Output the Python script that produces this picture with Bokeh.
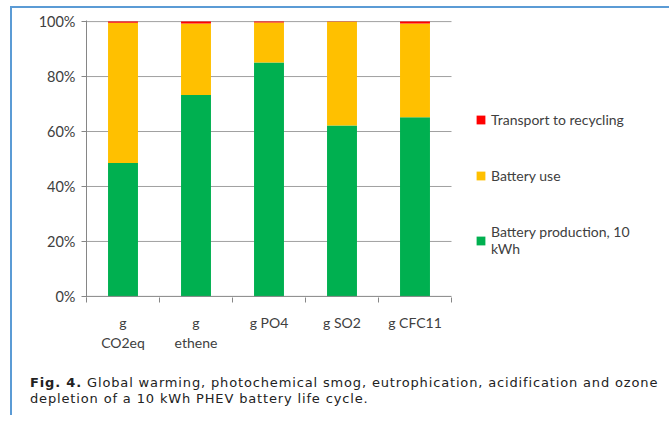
from bokeh.plotting import figure
from bokeh.models import (FixedTicker, NumeralTickFormatter, Legend, LegendItem,
                          ColumnDataSource, Div)
from bokeh.layouts import column
from bokeh.embed import file_html
from bokeh.resources import INLINE

categories = ["g\nCO2eq", "g\nethene", "g PO4", "g SO2", "g CFC11"]
production = [48.5, 73.3, 85.1, 62.2, 65.2]
use = [51.1, 26.0, 14.6, 37.7, 34.1]
transport = [0.4, 0.7, 0.3, 0.1, 0.7]
series_names = ["Battery production, 10\nkWh", "Battery use", "Transport to recycling"]
series_colors = ["#00b050", "#ffc000", "#ff0000"]
y_ticks = [0, 20, 40, 60, 80, 100]
caption_bold = "Fig. 4."
caption_line1 = "Global warming, photochemical smog, eutrophication, acidification and ozone"
caption_line2 = "depletion of a 10 kWh PHEV battery life cycle."

n = len(categories)
xs = [i + 0.5 for i in range(n)]
src = ColumnDataSource(dict(x=xs, prod=[v / 100 for v in production],
                            use=[v / 100 for v in use],
                            trans=[v / 100 for v in transport]))

FONT = "Lato"
TXT = "#404040"
BLUE = "#5b9bd5"

W, H = 661, 375
LEFT, TOP, FRAME_H = 86, 20, 277
AXIS_W = 365                      # pixel width of the category axis
FRAME_W = W - LEFT
x_end = n * FRAME_W / AXIS_W     # frame extends right to hold the legend

p = figure(width=W, height=H, output_backend="svg", toolbar_location=None,
           x_range=(0, x_end), y_range=(-0.004, 1.004),
           min_border_left=LEFT, min_border_right=0, min_border_top=TOP,
           min_border_bottom=H - TOP - FRAME_H)
p.outline_line_color = None
p.border_fill_color = None
p.background_fill_color = None

# gridlines limited to the category area, baseline darker
grid_y = [t / 100 for t in y_ticks[1:]]
p.segment(x0=[0] * len(grid_y), x1=[n] * len(grid_y), y0=grid_y, y1=grid_y,
          line_color="#a0a0a0", line_width=1)

rs = p.vbar_stack(["prod", "use", "trans"], x="x", width=0.41, source=src,
                  color=series_colors, line_color=None)

p.segment(x0=[0], x1=[n], y0=[0], y1=[0], line_color="#868686", line_width=1)

p.xaxis.ticker = FixedTicker(ticks=xs, minor_ticks=list(range(n + 1)))
p.xaxis.major_label_overrides = {x: c for x, c in zip(xs, categories)}
p.xaxis.major_tick_line_color = None
p.xaxis.minor_tick_line_color = "#868686"
p.xaxis.minor_tick_in = 0
p.xaxis.minor_tick_out = 5
p.xaxis.axis_line_color = None
p.xaxis.major_label_text_font = FONT
p.xaxis.major_label_text_font_size = "14px"
p.xaxis.major_label_text_color = TXT
p.xaxis.major_label_standoff = 10

p.yaxis.ticker = FixedTicker(ticks=[t / 100 for t in y_ticks])
p.yaxis.formatter = NumeralTickFormatter(format="0%")
p.yaxis.axis_line_color = "#868686"
p.yaxis.major_tick_line_color = "#868686"
p.yaxis.major_tick_in = 0
p.yaxis.major_tick_out = 5
p.yaxis.minor_tick_line_color = None
p.yaxis.major_label_text_font = FONT
p.yaxis.major_label_text_font_size = "14.5px"
p.yaxis.major_label_text_color = TXT
p.yaxis.major_label_standoff = 6

p.xgrid.grid_line_color = None
p.ygrid.grid_line_color = None

items = [LegendItem(label=series_names[i], renderers=[rs[i]]) for i in (2, 1, 0)]
legend = Legend(items=items, location=(389, 40), orientation="vertical",
                glyph_width=11, glyph_height=11, label_standoff=5,
                spacing=39, padding=0, margin=0,
                border_line_color=None, background_fill_alpha=0,
                label_text_font=FONT, label_text_font_size="14px",
                label_text_color=TXT)
p.add_layout(legend)

caption = Div(text=(f"<b>{caption_bold}</b>&nbsp;{caption_line1}"
                    f"<br>{caption_line2}"),
              width=640, height=40, margin=(0, 0, 0, 30),
              styles={"font-family": "DejaVu Sans", "font-size": "13px",
                      "letter-spacing": "0.85px",
                      "line-height": "16px", "color": "#222222"})

layout = column(p, caption, spacing=0,
                styles={"background": (
                    f"linear-gradient({BLUE},{BLUE}) 10px 6px / 2px 100% no-repeat, "
                    f"linear-gradient({BLUE},{BLUE}) 10px 6px / 100% 2px no-repeat, white")})

open("out.html", "w").write(file_html(layout, INLINE))
